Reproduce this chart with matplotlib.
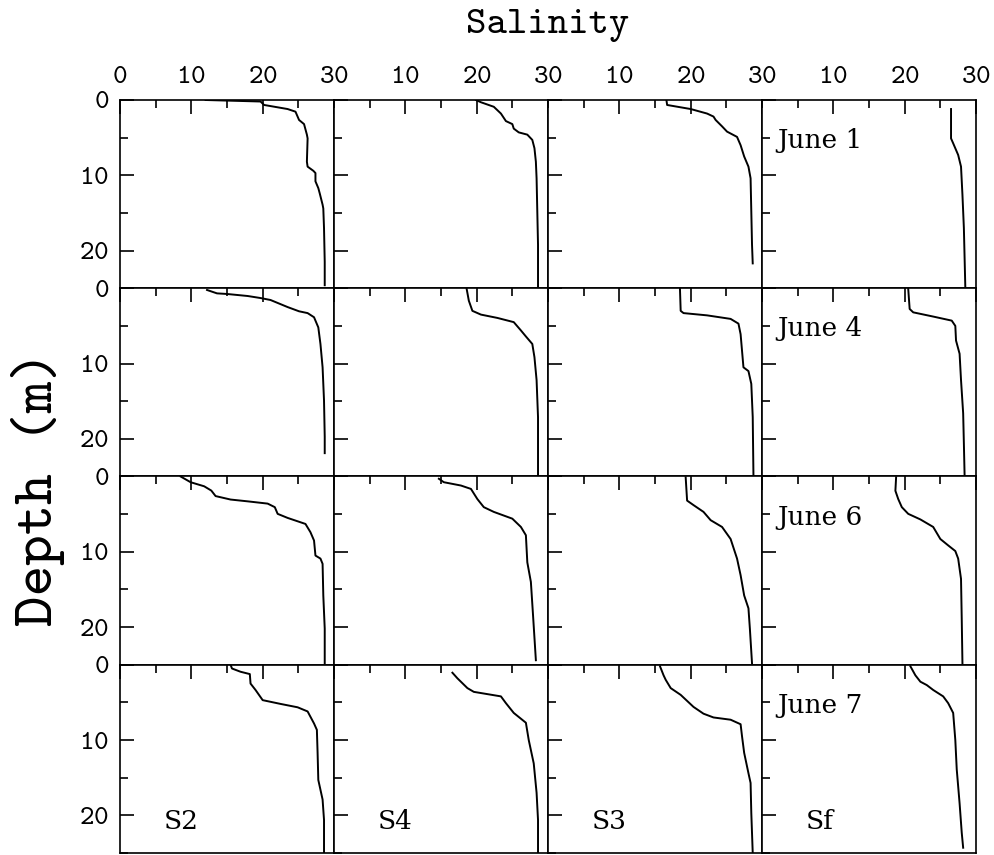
import numpy as np
import matplotlib.pyplot as plt
from matplotlib.ticker import MultipleLocator

# salinity profiles: (salinity, depth in m)
# June 1
j1_s2_sal = [12.0, 19.7, 20.2, 23.5, 24.6, 25.1, 25.8, 26.2, 26.3, 26.2, 26.3, 27.1, 27.4, 27.4, 27.8, 28.0, 28.4, 28.5, 28.6, 28.7, 28.7]
j1_s2_dep = [0.0, 0.2, 0.66, 1.2, 1.55, 2.65, 3.2, 4.6, 5.1, 8.2, 8.85, 9.4, 9.7, 10.8, 11.7, 12.4, 13.9, 14.4, 17.0, 21.5, 24.6]
j1_s4_sal = [19.9, 20.6, 22.4, 23.4, 24.1, 25.0, 25.2, 25.9, 27.1, 27.8, 28.1, 28.3, 28.4, 28.5, 28.6, 28.6]
j1_s4_dep = [0.0, 0.3, 0.9, 1.8, 2.8, 3.2, 3.8, 4.3, 4.6, 5.3, 6.4, 8.2, 10.4, 14.8, 19.2, 24.8]
j1_s3_sal = [16.6, 16.7, 20.0, 22.3, 23.2, 23.5, 24.4, 25.1, 26.5, 27.0, 27.5, 28.1, 28.4, 28.5, 28.6, 28.7]
j1_s3_dep = [0.0, 0.66, 1.2, 1.8, 2.2, 2.65, 3.5, 4.2, 4.9, 6.0, 7.5, 8.85, 10.4, 14.8, 19.2, 21.7]
j1_sf_sal = [26.5, 26.5, 26.8, 27.5, 27.9, 28.1, 28.3, 28.5]
j1_sf_dep = [1.2, 5.1, 5.75, 7.3, 8.85, 12.6, 17.0, 24.8]

# June 4
j4_s2_sal = [12.2, 13.6, 15.0, 17.9, 19.7, 21.1, 23.5, 25.1, 26.3, 27.2, 27.8, 28.1, 28.4, 28.6, 28.7, 28.7]
j4_s2_dep = [0.23, 0.68, 0.76, 1.03, 1.3, 1.56, 2.5, 3.06, 3.3, 3.85, 5.2, 7.4, 10.5, 14.9, 19.7, 21.9]
j4_s4_sal = [18.6, 18.9, 19.4, 20.6, 22.9, 25.2, 26.2, 26.9, 27.8, 28.1, 28.4, 28.6, 28.6]
j4_s4_dep = [0.1, 1.65, 3.0, 3.5, 3.94, 4.5, 5.6, 6.4, 7.4, 9.15, 12.2, 17.1, 24.8]
j4_s3_sal = [18.5, 18.6, 19.0, 22.3, 25.6, 26.7, 27.0, 27.2, 27.4, 28.1, 28.5, 28.7, 28.8]
j4_s3_dep = [0.1, 3.0, 3.3, 3.6, 4.07, 4.7, 6.1, 8.3, 10.5, 11.0, 12.7, 17.1, 24.8]
j4_sf_sal = [20.5, 20.7, 21.2, 24.0, 26.6, 27.1, 27.2, 27.7, 27.9, 28.2, 28.3, 28.4]
j4_sf_dep = [0.1, 2.75, 3.2, 3.76, 4.3, 5.0, 6.95, 8.7, 12.2, 16.6, 20.6, 24.8]

# June 6
j6_s2_sal = [8.5, 9.9, 11.8, 12.8, 13.4, 15.5, 17.9, 20.7, 21.7, 22.1, 23.5, 26.0, 26.7, 27.2, 27.4, 28.1, 28.4, 28.5, 28.7, 28.7]
j6_s2_dep = [0.0, 0.76, 1.3, 1.87, 2.6, 3.06, 3.3, 3.6, 4.07, 4.96, 5.5, 6.3, 7.4, 8.5, 10.5, 10.9, 11.6, 15.8, 20.2, 24.8]
j6_s4_sal = [14.7, 15.4, 17.8, 19.2, 20.1, 21.0, 22.4, 25.0, 26.2, 26.9, 27.1, 27.6, 27.9, 28.3]
j6_s4_dep = [0.3, 0.76, 1.2, 1.65, 3.0, 4.07, 4.7, 5.6, 6.7, 7.8, 11.4, 14.0, 18.4, 24.4]
j6_s3_sal = [19.3, 19.5, 20.4, 21.8, 22.8, 24.4, 25.6, 26.5, 27.0, 27.5, 28.1, 28.3, 28.6]
j6_s3_dep = [0.1, 3.2, 3.8, 4.7, 5.8, 6.7, 8.3, 10.9, 13.1, 15.8, 17.5, 20.2, 24.8]
j6_sf_sal = [18.8, 18.7, 19.1, 19.6, 20.5, 22.2, 24.0, 25.0, 26.1, 27.1, 27.5, 27.9, 28.0, 28.1]
j6_sf_dep = [0.1, 1.9, 3.0, 4.07, 4.96, 5.7, 6.7, 8.3, 9.15, 9.9, 10.9, 13.6, 18.9, 24.8]

# June 7
j7_s2_sal = [15.5, 15.7, 16.9, 18.2, 18.3, 19.0, 20.0, 22.5, 24.9, 26.3, 27.2, 27.6, 27.7, 27.8, 28.4, 28.6, 28.6]
j7_s2_dep = [0.0, 0.5, 0.93, 1.24, 2.5, 3.35, 4.7, 5.2, 5.65, 6.2, 7.8, 8.65, 11.7, 15.3, 17.9, 20.6, 25.0]
j7_s4_sal = [16.6, 17.3, 18.7, 19.6, 23.4, 24.1, 25.2, 26.9, 27.3, 28.0, 28.4, 28.6, 28.6]
j7_s4_dep = [1.06, 1.8, 3.1, 3.6, 4.2, 5.1, 6.4, 7.7, 10.0, 13.1, 17.0, 20.6, 25.0]
j7_s3_sal = [15.7, 16.2, 16.5, 17.2, 18.6, 20.4, 21.8, 23.2, 25.6, 27.0, 27.2, 27.5, 28.1, 28.4, 28.5, 28.7]
j7_s3_dep = [0.2, 1.4, 2.0, 3.1, 4.0, 5.6, 6.5, 7.0, 7.3, 7.9, 9.5, 11.7, 14.4, 15.7, 19.7, 25.0]
j7_sf_sal = [20.8, 21.5, 22.2, 23.1, 24.0, 25.4, 26.1, 26.8, 27.1, 27.3, 27.7, 28.0, 28.2]
j7_sf_dep = [0.2, 1.4, 2.25, 2.7, 3.35, 4.2, 5.1, 6.4, 10.0, 13.9, 18.4, 22.3, 24.3]

stations = ['S2', 'S4', 'S3', 'Sf']
dates = ['June 1', 'June 4', 'June 6', 'June 7']

profiles = [
    [(j1_s2_sal, j1_s2_dep), (j1_s4_sal, j1_s4_dep), (j1_s3_sal, j1_s3_dep), (j1_sf_sal, j1_sf_dep)],
    [(j4_s2_sal, j4_s2_dep), (j4_s4_sal, j4_s4_dep), (j4_s3_sal, j4_s3_dep), (j4_sf_sal, j4_sf_dep)],
    [(j6_s2_sal, j6_s2_dep), (j6_s4_sal, j6_s4_dep), (j6_s3_sal, j6_s3_dep), (j6_sf_sal, j6_sf_dep)],
    [(j7_s2_sal, j7_s2_dep), (j7_s4_sal, j7_s4_dep), (j7_s3_sal, j7_s3_dep), (j7_sf_sal, j7_sf_dep)],
]

plt.rcParams['font.family'] = 'cmtt10'
plt.rcParams['axes.formatter.use_mathtext'] = True

fig, axes = plt.subplots(4, 4, figsize=(9.95, 8.55), dpi=100)
fig.subplots_adjust(left=120/995, right=976/995, top=1-100/855, bottom=1-853/855,
                    wspace=0, hspace=0)

for i in range(4):
    for j in range(4):
        ax = axes[i, j]
        sal, dep = profiles[i][j]
        ax.plot(sal, dep, color='black', lw=1.4)
        ax.set_xlim(0, 30)
        ax.set_ylim(25, 0)
        for sp in ax.spines.values():
            sp.set_linewidth(1.2)
        ax.xaxis.set_major_locator(MultipleLocator(10))
        ax.xaxis.set_minor_locator(MultipleLocator(5))
        ax.yaxis.set_major_locator(MultipleLocator(10))
        ax.yaxis.set_minor_locator(MultipleLocator(5))
        ax.tick_params(which='both', direction='in', top=True, bottom=False,
                       left=True, right=False, labeltop=(i == 0), labelbottom=False,
                       labelleft=(j == 0), labelsize=20, width=1.2, pad=8)
        ax.tick_params(which='major', length=10)
        ax.tick_params(which='minor', length=6)
        if i == 0 and j > 0:
            ax.set_xticks([10, 20, 30])
        if j == 0:
            ax.set_yticks([0, 10, 20])
        if j == 3:
            ax.text(2.2, 5.4, dates[i], fontsize=19, family='DejaVu Serif',
                    ha='left', va='center')
        if i == 3:
            ax.text(6.2, 20.8, stations[j], fontsize=19, family='DejaVu Serif',
                    ha='left', va='center')

fig.text(548/995, 1-25/855, 'Salinity', fontsize=28, ha='center', va='center')
fig.text(38/995, 1-488/855, 'Depth (m)', fontsize=42, rotation=90,
         ha='center', va='center')

fig.savefig('out.png', dpi=100)
